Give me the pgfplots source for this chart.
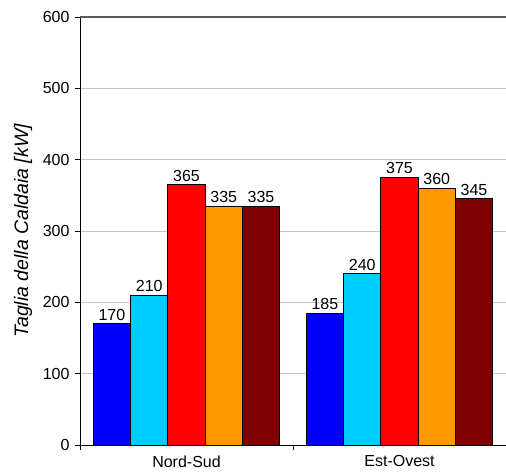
\documentclass[border=0pt]{standalone}
\usepackage{pgfplots}
\pgfplotsset{compat=1.18}
\usepackage{fontspec}
\setmainfont{Liberation Sans}
\definecolor{c1}{RGB}{0,0,255}
\definecolor{c2}{RGB}{0,204,255}
\definecolor{c3}{RGB}{255,0,0}
\definecolor{c4}{RGB}{255,153,0}
\definecolor{c5}{RGB}{128,0,0}
\begin{document}
\fontsize{16}{19}\selectfont
\begin{tikzpicture}
\begin{axis}[
  scale only axis, width=426pt, height=428pt,
  xmin=-0.5, xmax=1.5, ymin=0, ymax=600,
  axis x line*=bottom, axis y line*=left,
  axis line style={-, black, line width=0.9pt},
  /pgf/number format/assume math mode=true,
  ticklabel style={font=\fontsize{16}{19}\selectfont},
  ytick={0,100,...,600},
  ymajorgrids, grid style={draw=gray!45, line width=0.9pt},
  extra y ticks={600}, extra y tick labels={},
  extra y tick style={grid style={draw=gray!70!black, line width=1.6pt}, major tick length=0pt},
  xtick={0,1}, xticklabels={Nord-Sud,Est-Ovest},
  major x tick style={draw=none},
  minor xtick={-0.5,0.5,1.5},
  tick align=outside, major tick length=5pt, minor tick length=5pt,
  tick style={black, line width=0.9pt},
  ybar=0pt, bar width=0.175,
  nodes near coords,
  every node near coord/.append style={font=\fontsize{16}{19}\selectfont, text=black, inner sep=3pt},
  ylabel={\itshape Taglia della Caldaia [kW]},
  ylabel style={font=\fontsize{19.5}{23}\selectfont, at={(rel axis cs:0,0.5)}, anchor=center, yshift=57pt},
  clip=false,
]
\addplot[fill=c1, draw=black, line width=0.8pt] coordinates {(0,170) (1,185)};
\addplot[fill=c2, draw=black, line width=0.8pt] coordinates {(0,210) (1,240)};
\addplot[fill=c3, draw=black, line width=0.8pt] coordinates {(0,365) (1,375)};
\addplot[fill=c4, draw=black, line width=0.8pt] coordinates {(0,335) (1,360)};
\addplot[fill=c5, draw=black, line width=0.8pt] coordinates {(0,335) (1,345)};
\coordinate (bl) at (rel axis cs:0,0);
\coordinate (tr) at (rel axis cs:1,1);
\end{axis}
\pgfresetboundingbox
\path ([shift={(-80pt,-28pt)}]bl) rectangle ([shift={(0pt,17pt)}]tr);
\end{tikzpicture}
\end{document}
